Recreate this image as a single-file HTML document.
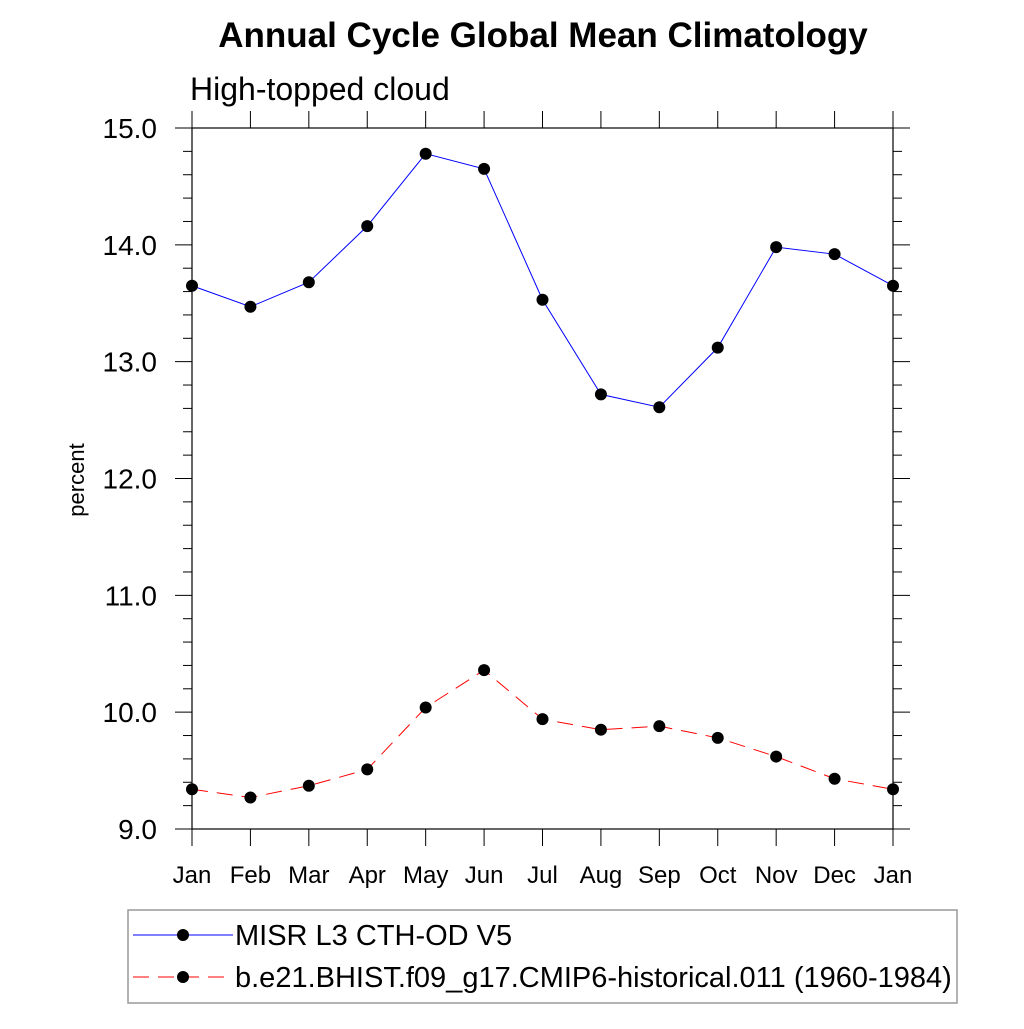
<!DOCTYPE html>
<html><head><meta charset="utf-8"><style>
body{margin:0;background:#fff}
svg text{font-family:"Liberation Sans",sans-serif}
</style></head><body>
<svg width="1024" height="1024" xmlns="http://www.w3.org/2000/svg">
<text x="543" y="47" text-anchor="middle" font-size="35" font-weight="bold">Annual Cycle Global Mean Climatology</text>
<text x="190" y="100" font-size="32">High-topped cloud</text>
<text transform="translate(84,480) rotate(-90)" text-anchor="middle" font-size="22">percent</text>
<g id="axes"></g>
<g id="series"></g>
<rect x="128" y="910" width="829" height="93" fill="none" stroke="#999" stroke-width="1.5"/>
<g>
<line x1="133" y1="935" x2="233" y2="935" stroke="#00f" stroke-width="1"/>
<circle cx="183" cy="935" r="6" fill="#000"/>
<text x="235" y="945" font-size="29">MISR L3 CTH-OD V5</text></g>
<g>
<line x1="133" y1="977" x2="233" y2="977" stroke="#f00" stroke-width="1" stroke-dasharray="16,9"/>
<circle cx="183" cy="977" r="6" fill="#000"/>
<text x="235" y="987" font-size="29">b.e21.BHIST.f09_g17.CMIP6-historical.011 (1960-1984)</text></g>
</svg>
<script>
const months=["Jan","Feb","Mar","Apr","May","Jun","Jul","Aug","Sep","Oct","Nov","Dec","Jan"];
const misr=[13.65,13.47,13.68,14.16,14.78,14.65,13.53,12.72,12.61,13.12,13.98,13.92,13.65];
const model=[9.34,9.27,9.37,9.51,10.04,10.36,9.94,9.85,9.88,9.78,9.62,9.43,9.34];
const yTicks=["9.0","10.0","11.0","12.0","13.0","14.0","15.0"];
const X0=192,X1=893,Y0=829,Y1=128,YMIN=9,YMAX=15;
const xs=i=>X0+(X1-X0)*i/(months.length-1);
const ys=v=>Y0-(Y0-Y1)*(v-YMIN)/(YMAX-YMIN);
const NS="http://www.w3.org/2000/svg";
function mk(t,a,p){const e=document.createElementNS(NS,t);for(const k in a)e.setAttribute(k,a[k]);p.appendChild(e);return e;}
const ax=document.getElementById('axes');
const fr=mk('rect',{x:X0,y:Y1,width:X1-X0,height:Y0-Y1,fill:'none',stroke:'#000','stroke-width':1.2},ax);


for(let v=YMIN;v<=YMAX+1e-6;v+=0.2){
 const y=ys(v);const maj=Math.abs(v-Math.round(v))<1e-6;const L=maj?17:9;
 mk('line',{x1:X0-L,y1:y,x2:X0,y2:y,stroke:'#000'},ax);
 mk('line',{x1:X1,y1:y,x2:X1+L,y2:y,stroke:'#000'},ax);
}
yTicks.forEach(s=>{const t=mk('text',{x:157,y:ys(parseFloat(s))+10,'text-anchor':'end','font-size':28},ax);t.textContent=s;

});
months.forEach((m,i)=>{const x=xs(i);
 mk('line',{x1:x,y1:Y0,x2:x,y2:Y0+17,stroke:'#000'},ax);
 mk('line',{x1:x,y1:Y1-17,x2:x,y2:Y1,stroke:'#000'},ax);
 const t=mk('text',{x:x,y:883,'text-anchor':'middle','font-size':24},ax);t.textContent=m;
 
 });
const sg=document.getElementById('series');
function series(d,col,dash,name){
 const p=mk('polyline',{points:d.map((v,i)=>xs(i)+','+ys(v)).join(' '),fill:'none',stroke:col,'stroke-width':1,'stroke-dasharray':dash},sg);
 
 
 d.forEach((v,i)=>{const c=mk('circle',{cx:xs(i),cy:ys(v),r:6,fill:'#000'},sg);
 
 });
}
series(misr,'#00f','none','misr');
series(model,'#f00','16,9','model');
</script>
</body></html>
